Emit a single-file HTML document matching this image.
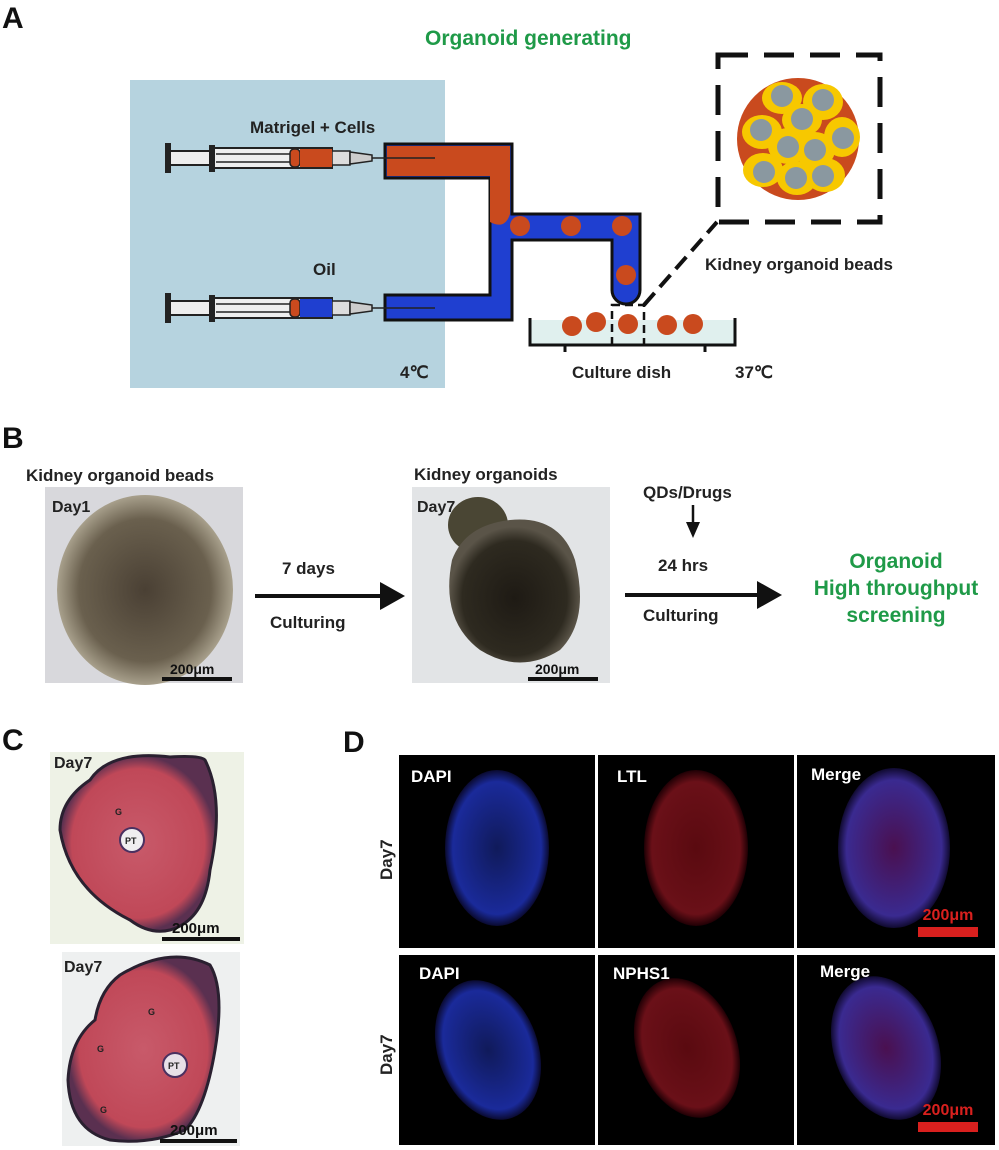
<!DOCTYPE html>
<html><head><meta charset="utf-8"><style>
html,body{margin:0;padding:0;background:#fff;}
svg{display:block;}
text{font-family:"Liberation Sans",Arial,sans-serif;font-weight:bold;}
</style></head><body>
<svg width="999" height="1150" viewBox="0 0 999 1150" xmlns="http://www.w3.org/2000/svg">
<defs>
<radialGradient id="bead" cx="50%" cy="50%" r="50%"><stop offset="0" stop-color="#4a4034"/><stop offset="0.75" stop-color="#6a604e"/><stop offset="1" stop-color="#a8a08c"/></radialGradient>
<radialGradient id="org" cx="50%" cy="55%" r="50%"><stop offset="0" stop-color="#1e1a14"/><stop offset="0.8" stop-color="#2e2a20"/><stop offset="1" stop-color="#5a5448"/></radialGradient>
<radialGradient id="he" cx="50%" cy="50%" r="50%"><stop offset="0" stop-color="#c85a6a"/><stop offset="0.85" stop-color="#c04858"/><stop offset="1" stop-color="#5a3050"/></radialGradient>
<radialGradient id="dapi" cx="50%" cy="50%" r="50%"><stop offset="0" stop-color="#101a5a"/><stop offset="0.85" stop-color="#1a2a9a"/><stop offset="1" stop-color="#0a0a30"/></radialGradient>
<radialGradient id="red" cx="50%" cy="50%" r="50%"><stop offset="0" stop-color="#5a0a10"/><stop offset="0.85" stop-color="#6a1018"/><stop offset="1" stop-color="#200005"/></radialGradient>
<radialGradient id="mer" cx="50%" cy="50%" r="50%"><stop offset="0" stop-color="#4a1050"/><stop offset="0.85" stop-color="#3a2a90"/><stop offset="1" stop-color="#100a30"/></radialGradient>
</defs>

<!-- Panel A -->
<text x="2" y="28" font-size="30" fill="#111">A</text>
<text x="425" y="45" font-size="21" fill="#1f9a48">Organoid generating</text>
<rect x="130" y="80" width="315" height="308" fill="#b6d3df"/>
<text x="250" y="133" font-size="17" fill="#222">Matrigel + Cells</text>
<text x="313" y="275" font-size="17" fill="#222">Oil</text>
<text x="400" y="378" font-size="17" fill="#222">4℃</text>

<!-- tubes -->
<path d="M385 144 H512 V214 H640 V290 A14 14 0 0 1 612 290 V240 H512 V320 H385 V295 H490 V178 H385 Z" fill="#1f3fd0" stroke="#111" stroke-width="3"/>
<path d="M387 146 H510 V214 Q505 230 490 222 V176 H387 Z" fill="#c94a1e"/>
<circle cx="520" cy="226" r="10" fill="#c94a1e"/>
<circle cx="571" cy="226" r="10" fill="#c94a1e"/>
<circle cx="622" cy="226" r="10" fill="#c94a1e"/>
<circle cx="626" cy="275" r="10" fill="#c94a1e"/>

<!-- syringes -->
<g id="syr">
<rect x="165" y="143" width="6" height="30" fill="#222"/>
<rect x="170" y="151" width="40" height="14" fill="#eee" stroke="#222" stroke-width="2"/>
<rect x="209" y="145" width="6" height="27" fill="#222"/>
<rect x="214" y="148" width="118" height="20" fill="#eee" stroke="#222" stroke-width="2"/>
<line x1="216" y1="154" x2="290" y2="154" stroke="#222" stroke-width="1.5"/>
<line x1="216" y1="162" x2="290" y2="162" stroke="#222" stroke-width="1.5"/>
<rect x="290" y="149" width="10" height="18" rx="4" fill="#c94a1e" stroke="#222" stroke-width="1.5"/>
<rect x="332" y="151" width="18" height="14" fill="#ddd" stroke="#222" stroke-width="1.5"/>
<path d="M350 152 L372 155 L372 161 L350 164 Z" fill="#ccc" stroke="#222" stroke-width="1.5"/>
<line x1="372" y1="158" x2="435" y2="158" stroke="#222" stroke-width="1.5"/>
</g>
<rect x="300" y="149" width="32" height="18" fill="#c94a1e"/>
<use href="#syr" transform="translate(0,150)"/>
<rect x="300" y="299" width="32" height="18" fill="#1f3fd0"/>

<!-- dish -->
<rect x="530" y="320" width="205" height="25" fill="#e0f0ee"/>
<path d="M530 318 V345 H735 V318" fill="none" stroke="#111" stroke-width="3"/>
<line x1="565" y1="345" x2="565" y2="352" stroke="#111" stroke-width="3"/>
<line x1="705" y1="345" x2="705" y2="352" stroke="#111" stroke-width="3"/>
<circle cx="572" cy="326" r="10" fill="#c94a1e"/>
<circle cx="596" cy="322" r="10" fill="#c94a1e"/>
<circle cx="628" cy="324" r="10" fill="#c94a1e"/>
<circle cx="667" cy="325" r="10" fill="#c94a1e"/>
<circle cx="693" cy="324" r="10" fill="#c94a1e"/>
<rect x="612" y="305" width="32" height="40" fill="none" stroke="#111" stroke-width="2.5" stroke-dasharray="8 5"/>
<line x1="644" y1="305" x2="717" y2="222" stroke="#111" stroke-width="4" stroke-dasharray="16 8"/>
<text x="572" y="378" font-size="17" fill="#222">Culture dish</text>
<text x="735" y="378" font-size="17" fill="#222">37℃</text>

<!-- inset -->
<rect x="718" y="55" width="162" height="167" fill="none" stroke="#111" stroke-width="5" stroke-dasharray="30 16"/>
<circle cx="798" cy="139" r="61" fill="#c94a1e"/>
<g fill="#f7c800">
<ellipse cx="782" cy="98" rx="20" ry="16"/><ellipse cx="823" cy="102" rx="20" ry="18"/><ellipse cx="802" cy="120" rx="20" ry="16"/>
<ellipse cx="762" cy="132" rx="20" ry="17"/><ellipse cx="788" cy="146" rx="20" ry="18"/><ellipse cx="815" cy="150" rx="20" ry="18"/>
<ellipse cx="842" cy="137" rx="18" ry="20"/><ellipse cx="763" cy="170" rx="20" ry="17"/><ellipse cx="797" cy="178" rx="20" ry="17"/><ellipse cx="825" cy="175" rx="20" ry="17"/>
</g>
<g fill="#8a98a0">
<circle cx="782" cy="96" r="11"/><circle cx="823" cy="100" r="11"/><circle cx="802" cy="119" r="11"/>
<circle cx="761" cy="130" r="11"/><circle cx="788" cy="147" r="11"/><circle cx="815" cy="150" r="11"/>
<circle cx="843" cy="138" r="11"/><circle cx="764" cy="172" r="11"/><circle cx="796" cy="178" r="11"/><circle cx="823" cy="176" r="11"/>
</g>
<text x="705" y="270" font-size="17" fill="#222">Kidney organoid beads</text>

<!-- Panel B -->
<text x="2" y="448" font-size="30" fill="#111">B</text>
<text x="26" y="481" font-size="17" fill="#222">Kidney organoid beads</text>
<rect x="45" y="487" width="198" height="196" fill="#d8d8dc"/>
<ellipse cx="145" cy="590" rx="88" ry="95" fill="url(#bead)"/>
<text x="52" y="512" font-size="16" fill="#222">Day1</text>
<line x1="162" y1="679" x2="232" y2="679" stroke="#111" stroke-width="4"/>
<text x="170" y="674" font-size="14" fill="#111">200μm</text>
<text x="282" y="574" font-size="17" fill="#222">7 days</text>
<line x1="255" y1="596" x2="383" y2="596" stroke="#111" stroke-width="4"/>
<path d="M380 582 L405 596 L380 610 Z" fill="#111"/>
<text x="270" y="628" font-size="17" fill="#222">Culturing</text>

<text x="414" y="480" font-size="17" fill="#222">Kidney organoids</text>
<rect x="412" y="487" width="198" height="196" fill="#e2e4e6"/>
<ellipse cx="478" cy="525" rx="30" ry="28" fill="#4a4634"/>
<path d="M452 560 Q440 620 480 650 Q520 675 560 650 Q590 620 575 560 Q560 515 510 520 Q465 525 452 560 Z" fill="url(#org)"/>
<text x="417" y="512" font-size="16" fill="#222">Day7</text>
<line x1="528" y1="679" x2="598" y2="679" stroke="#111" stroke-width="4"/>
<text x="535" y="674" font-size="14" fill="#111">200μm</text>

<text x="643" y="498" font-size="17" fill="#222">QDs/Drugs</text>
<line x1="693" y1="505" x2="693" y2="525" stroke="#111" stroke-width="2.5"/>
<path d="M686 522 L693 538 L700 522 Z" fill="#111"/>
<text x="658" y="571" font-size="17" fill="#222">24 hrs</text>
<line x1="625" y1="595" x2="760" y2="595" stroke="#111" stroke-width="4"/>
<path d="M757 581 L782 595 L757 609 Z" fill="#111"/>
<text x="643" y="621" font-size="17" fill="#222">Culturing</text>
<text x="896" y="568" font-size="21" fill="#1f9a48" text-anchor="middle">Organoid</text>
<text x="896" y="595" font-size="21" fill="#1f9a48" text-anchor="middle">High throughput</text>
<text x="896" y="622" font-size="21" fill="#1f9a48" text-anchor="middle">screening</text>

<!-- Panel C -->
<text x="2" y="750" font-size="30" fill="#111">C</text>
<rect x="50" y="752" width="194" height="192" fill="#eef2e6"/>
<path d="M90 780 Q110 750 170 757 Q200 755 205 760 Q225 800 210 870 Q205 920 170 930 Q150 935 130 920 Q70 890 60 830 Q60 800 90 780 Z" fill="url(#he)" stroke="#2a2030" stroke-width="3"/>
<ellipse cx="132" cy="957" rx="1" ry="1" fill="none"/>
<circle cx="132" cy="840" r="12" fill="#f0eef0" stroke="#4a3060" stroke-width="2"/>
<text x="125" y="844" font-size="9" fill="#222">PT</text>
<text x="115" y="815" font-size="9" fill="#222">G</text>
<text x="54" y="768" font-size="16" fill="#222">Day7</text>
<line x1="162" y1="939" x2="240" y2="939" stroke="#111" stroke-width="4"/>
<text x="172" y="933" font-size="15" fill="#111">200μm</text>

<rect x="62" y="952" width="178" height="194" fill="#eef0f0"/>
<path d="M120 975 Q170 945 210 965 Q225 990 215 1050 Q205 1110 185 1130 Q150 1145 110 1140 Q70 1130 68 1080 Q70 1040 95 1020 Q100 990 120 975 Z" fill="url(#he)" stroke="#2a2030" stroke-width="3"/>
<circle cx="175" cy="1065" r="12" fill="#e8e0e8" stroke="#4a3060" stroke-width="2"/>
<text x="168" y="1069" font-size="9" fill="#222">PT</text>
<text x="148" y="1015" font-size="9" fill="#222">G</text>
<text x="97" y="1052" font-size="9" fill="#222">G</text>
<text x="100" y="1113" font-size="9" fill="#222">G</text>
<text x="64" y="972" font-size="16" fill="#222">Day7</text>
<line x1="160" y1="1141" x2="237" y2="1141" stroke="#111" stroke-width="4"/>
<text x="170" y="1135" font-size="15" fill="#111">200μm</text>

<!-- Panel D -->
<text x="343" y="752" font-size="30" fill="#111">D</text>
<g>
<rect x="399" y="755" width="196" height="193" fill="#000"/>
<rect x="598" y="755" width="196" height="193" fill="#000"/>
<rect x="797" y="755" width="198" height="193" fill="#000"/>
<rect x="399" y="955" width="196" height="190" fill="#000"/>
<rect x="598" y="955" width="196" height="190" fill="#000"/>
<rect x="797" y="955" width="198" height="190" fill="#000"/>
</g>
<ellipse cx="497" cy="848" rx="52" ry="78" fill="url(#dapi)"/>
<ellipse cx="696" cy="848" rx="52" ry="78" fill="url(#red)"/>
<ellipse cx="894" cy="848" rx="56" ry="80" fill="url(#mer)"/>
<ellipse cx="488" cy="1050" rx="50" ry="72" fill="url(#dapi)" transform="rotate(-20 488 1050)"/>
<ellipse cx="687" cy="1048" rx="50" ry="72" fill="url(#red)" transform="rotate(-20 687 1048)"/>
<ellipse cx="886" cy="1048" rx="52" ry="74" fill="url(#mer)" transform="rotate(-20 886 1048)"/>
<text x="411" y="782" font-size="17" fill="#fff">DAPI</text>
<text x="617" y="782" font-size="17" fill="#fff">LTL</text>
<text x="811" y="780" font-size="17" fill="#fff">Merge</text>
<text x="419" y="979" font-size="17" fill="#fff">DAPI</text>
<text x="613" y="979" font-size="17" fill="#fff">NPHS1</text>
<text x="820" y="977" font-size="17" fill="#fff">Merge</text>
<text x="948" y="920" font-size="16" fill="#d9201e" text-anchor="middle">200μm</text>
<rect x="918" y="927" width="60" height="10" fill="#d9201e"/>
<text x="948" y="1115" font-size="16" fill="#d9201e" text-anchor="middle">200μm</text>
<rect x="918" y="1122" width="60" height="10" fill="#d9201e"/>
<text transform="translate(392 880) rotate(-90)" font-size="17" fill="#222">Day7</text>
<text transform="translate(392 1075) rotate(-90)" font-size="17" fill="#222">Day7</text>
</svg>
</body></html>
